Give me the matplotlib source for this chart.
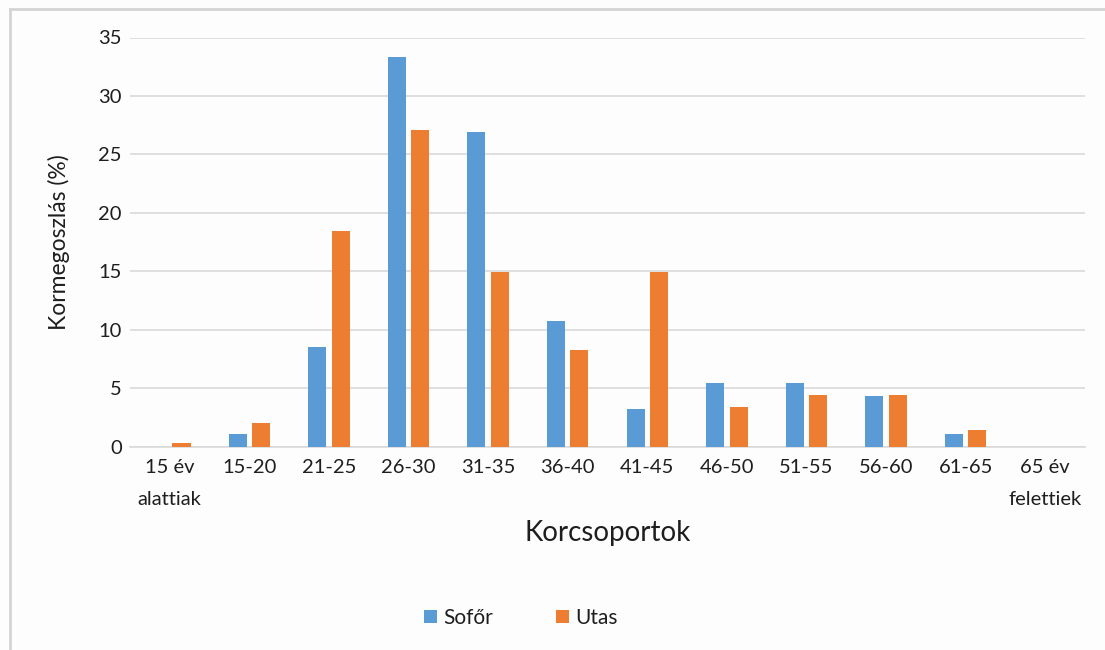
import numpy as np
import matplotlib
matplotlib.use("Agg")
import matplotlib.pyplot as plt
from matplotlib.lines import Line2D

plt.rcParams['font.family'] = ['Lato', 'DejaVu Sans']

categories = ["15 év\nalattiak", "15-20", "21-25", "26-30", "31-35", "36-40",
              "41-45", "46-50", "51-55", "56-60", "61-65", "65 év\nfelettiek"]
sofor = [0.0, 1.1, 8.5, 33.3, 26.9, 10.7, 3.2, 5.4, 5.4, 4.3, 1.1, 0.0]
utas = [0.3, 2.0, 18.4, 27.1, 14.9, 8.3, 14.9, 3.4, 4.4, 4.4, 1.4, 0.0]
yticks = [0, 5, 10, 15, 20, 25, 30, 35]

BLUE = "#5B9BD5"
ORANGE = "#ED7D31"
GRID = "#D9D9D9"
TEXT = "#1E1E1E"

W, H = 1105, 650
fig = plt.figure(figsize=(W / 100, H / 100), dpi=100, facecolor="#FDFDFD")
ax = fig.add_axes([130 / W, 1 - 446.5 / H, (1085 - 130) / W, (446.5 - 37.5) / H])
ax.set_facecolor("#FDFDFD")

x = np.arange(len(categories))
bw = 0.227
gap = 0.067
ax.bar(x - (bw + gap) / 2, sofor, width=bw, color=BLUE, label="Sofőr", zorder=3)
ax.bar(x + (bw + gap) / 2, utas, width=bw, color=ORANGE, label="Utas", zorder=3)

ax.set_xlim(-0.5, len(categories) - 0.5)
ax.set_ylim(0, 35)
ax.set_yticks(yticks)
ax.set_xticks(x)
ax.set_xticklabels(categories, fontsize=14.5, color=TEXT, linespacing=2.1,
                   verticalalignment="top")
ax.tick_params(axis="y", labelsize=14.5, labelcolor=TEXT, length=0, pad=6)
ax.tick_params(axis="x", length=0, pad=9)
ax.grid(axis="y", color=GRID, linewidth=1.2, zorder=0)
for s in ("top", "right", "left"):
    ax.spines[s].set_visible(False)
ax.spines["bottom"].set_color(GRID)
ax.spines["bottom"].set_linewidth(1.2)
ax.spines["bottom"].set_zorder(1)

ax.set_ylabel("Kormegoszlás (%)", fontsize=16.5, color=TEXT, labelpad=20)
ax.set_xlabel("Korcsoportok", fontsize=20, color=TEXT, labelpad=8)

handles, labels = ax.get_legend_handles_labels()
fig.legend(handles, labels, loc="center", bbox_to_anchor=(521 / W, 1 - 618 / H),
           ncol=2, frameon=False, fontsize=15, handlelength=0.62, handleheight=0.62,
           handletextpad=0.3, columnspacing=3.0, labelcolor=TEXT)

# light frame around the chart area
fig.add_artist(Line2D([10 / W, 10 / W], [0, 1 - 9 / H], transform=fig.transFigure,
                      color="#D4D4D4", linewidth=2))
fig.add_artist(Line2D([10 / W, 1], [1 - 9 / H, 1 - 9 / H], transform=fig.transFigure,
                      color="#D4D4D4", linewidth=2))

fig.savefig("out.png", dpi=100, facecolor=fig.get_facecolor())
